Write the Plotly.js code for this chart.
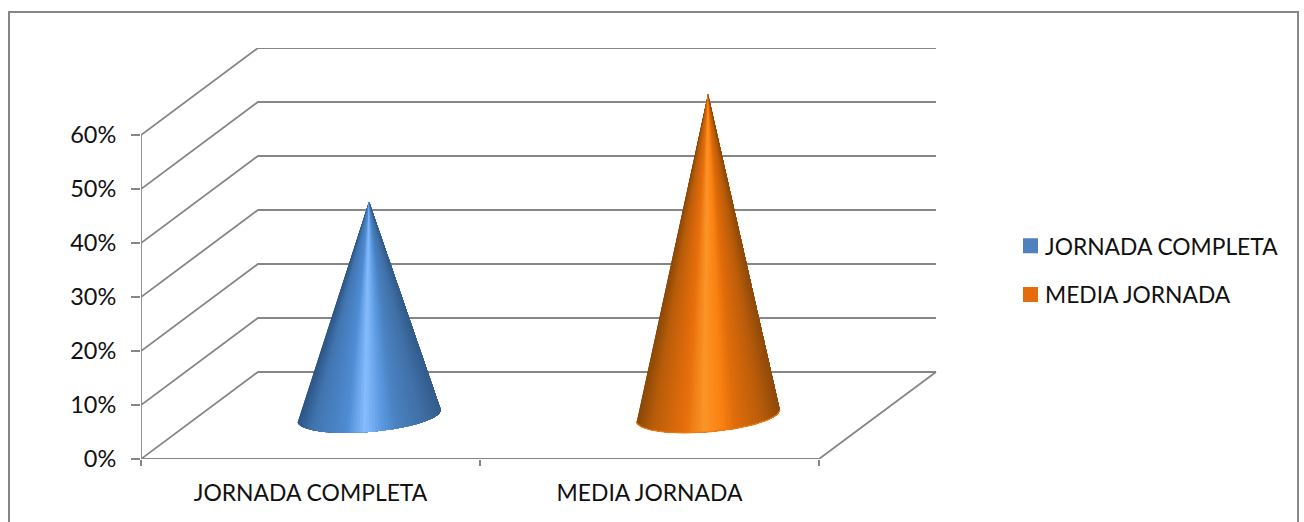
<!DOCTYPE html>
<html><head><meta charset="utf-8">
<script src="https://cdn.plot.ly/plotly-3.0.1.min.js"></script>
<style>html,body{margin:0;padding:0;background:#fff;overflow:hidden}</style>
</head><body><div id="chart" style="width:1304px;height:522px"></div>
<script>
const categories = ['JORNADA COMPLETA', 'MEDIA JORNADA'];
const values = [0.396, 0.595];
const yTicks = [0, 0.1, 0.2, 0.3, 0.4, 0.5, 0.6];
const yTickLabels = ['0%', '10%', '20%', '30%', '40%', '50%', '60%'];
const legendColors = ['#4f81bd', '#e46c0a'];
const shadeStops = [0, 0.11, 0.345, 0.47, 0.6, 0.69, 0.88, 1];
const blueShades = ['#2c5585', '#4175b0', '#4f8cd3', '#85bcff', '#5a97de', '#4a82c2', '#3f6fa5', '#335c8c'];
const orangeShades = ['#8a4808', '#b85c0a', '#e86f0c', '#fb9527', '#fb8012', '#e06c0a', '#b85c0a', '#8f4a0a'];
const shades = [blueShades, orangeShades];
const gridColor = '#868686';
const textColor = '#111111';
const fontFamily = 'Lato, "Open Sans", sans-serif';

// pseudo-3D oblique projection: category, value, depth (0 front .. 1 back)
const DX = 117 / 339, DY = 87 / 540;
const px = (c, d) => c + d * DX;
const py = (v, d) => v + d * DY;

function hex(c){return [1,3,5].map(i=>parseInt(c.substr(i,2),16));}
function shade(stops, t){
  let i = 0;
  while (i < shadeStops.length - 2 && t > shadeStops[i+1]) i++;
  const f = Math.min(1, Math.max(0, (t - shadeStops[i]) / (shadeStops[i+1] - shadeStops[i])));
  const a = hex(stops[i]), b = hex(stops[i+1]);
  return 'rgb(' + a.map((x,k)=>Math.round(x + (b[k]-x)*f)).join(',') + ')';
}
const line = (x, y, w) => ({x, y, mode:'lines', type:'scatter', showlegend:false, hoverinfo:'skip', cliponaxis:false,
  line:{color:gridColor, width:w || 1.8}});

const traces = [];
// legend carriers sit behind the cones
categories.forEach((name, i) => traces.push({
  type:'scatter', mode:'markers', name, x:[px(i + 0.5, 0.5)], y:[py(values[i] / 4, 0.5)],
  marker:{symbol:'square', size:15, color:legendColors[i]}, hoverinfo:'skip', legendgroup:name
}));
// walls
yTicks.forEach(v => {
  traces.push(line([px(0,0), px(0,1), px(2,1)], [py(v,0), py(v,1), py(v,1)]));
});
traces.push(line([0, 0], [0, 0.6]));
traces.push(line([0, 2, px(2,1)], [0, 0, py(0,1)]));

// cones: painted left to right, each polygon covers everything still to its right, so no seams appear
const R = 0.2, N = 70;
const th0 = Math.atan2(-R * DX, R);
const xMax = Math.hypot(R, R * DX);
categories.forEach((name, i) => {
  const c = i + 0.5;
  const base = th => [px(c + R*Math.cos(th), 0.5 - R*Math.sin(th)), py(0, 0.5 - R*Math.sin(th))];
  const apex = [px(c, 0.5), py(values[i], 0.5)];
  const cx = px(c, 0.5);
  const arc = [];
  for (let k = 0; k <= N; k++) arc.push(base(th0 + Math.PI * (1 - k / N)));  // left end to right end
  for (let k = 0; k < N; k++) {
    const rest = arc.slice(k);
    const t = ((arc[k][0] + arc[k+1][0]) / 2 - (cx - xMax)) / (2 * xMax);
    const col = shade(shades[i], t);
    traces.push({type:'scatter', mode:'lines',
      x:[apex[0]].concat(rest.map(p=>p[0]), [apex[0]]), y:[apex[1]].concat(rest.map(p=>p[1]), [apex[1]]),
      fill:'toself', fillcolor:col, line:{width:0}, showlegend:false, hoverinfo:'skip', cliponaxis:false});
  }
  if (i === 1) traces.push({type:'scatter', mode:'lines', x:arc.map(p=>p[0]), y:arc.map(p=>p[1]), showlegend:false, hoverinfo:'skip',
    cliponaxis:false, line:{color:'#ee7a14', width:1.2}});
});

const layout = {
  width:1304, height:522, paper_bgcolor:'#fff', plot_bgcolor:'rgba(0,0,0,0)',
  margin:{l:141, r:367, t:48, b:63, pad:0},
  hovermode:false, dragmode:false,
  font:{family:fontFamily, color:textColor, size:23},
  xaxis:{range:[0, 796/339], tickmode:'array', tickvals:[0.5, 1.5], ticktext:categories, ticks:'', ticklen:0,
    showgrid:false, zeroline:false, showline:false, fixedrange:true, ticklabelstandoff:18,
    tickfont:{family:fontFamily, size:22.9, color:textColor},
    minor:{tickmode:'array', tickvals:[0, 1, 2], ticks:'outside', ticklen:6, tickwidth:1.8, tickcolor:gridColor, showgrid:false}},
  yaxis:{range:[0, 411/540], tickmode:'array', tickvals:yTicks, ticktext:yTickLabels, ticks:'outside', ticklen:9,
    tickwidth:1.8, tickcolor:gridColor, showgrid:false, zeroline:false, showline:false, fixedrange:true, ticklabelstandoff:10,
    tickfont:{family:fontFamily, size:23.5, color:textColor}},
  legend:{x:(1005-141)/796, xanchor:'left', y:(459-270.5)/411, yanchor:'middle', traceorder:'grouped', tracegroupgap:16,
    font:{family:fontFamily, size:22.8, color:textColor}, bgcolor:'rgba(0,0,0,0)', itemclick:false, itemdoubleclick:false},
  shapes:[{type:'rect', xref:'paper', yref:'paper', layer:'below',
    x0:(9-141)/796, x1:(1298-141)/796, y0:(459-540)/411, y1:(459-12)/411,
    line:{color:gridColor, width:2}, fillcolor:'rgba(0,0,0,0)'}]
};
Plotly.newPlot('chart', traces, layout, {displayModeBar:false, responsive:false, staticPlot:true}).then(() => {
  document.querySelectorAll('.legend .legendsymbols').forEach(n => n.setAttribute('transform', 'translate(5.5,0)'));
});
</script></body></html>
